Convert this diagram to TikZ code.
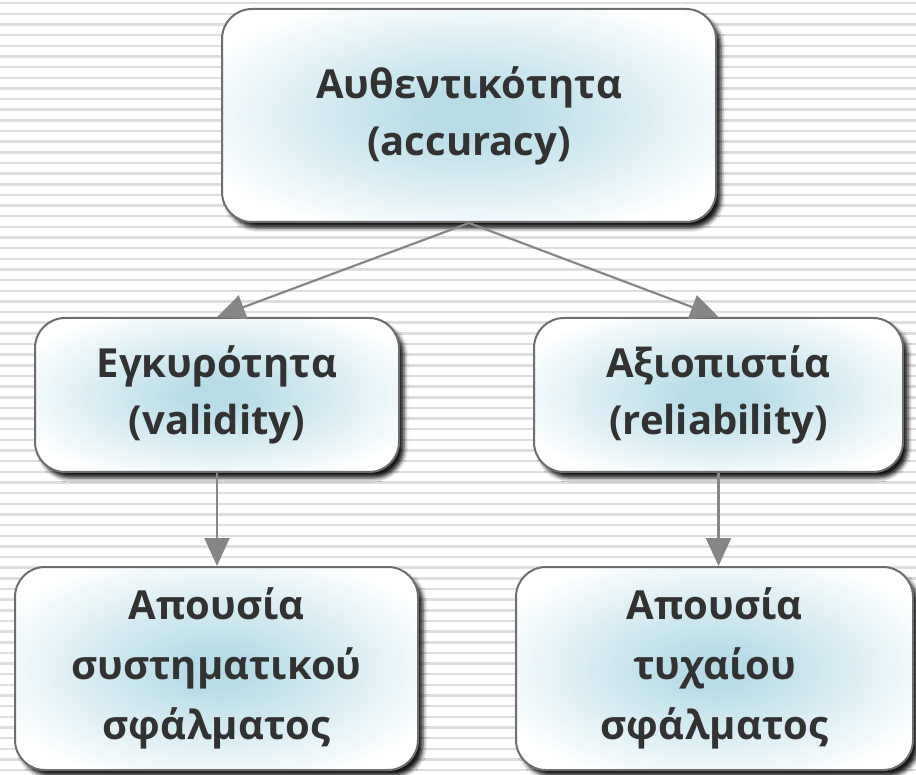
\documentclass[tikz,border=0pt]{standalone}
\usepackage{fontspec}
\setmainfont{Open Sans}
\usetikzlibrary{arrows.meta,shadows.blur}

\definecolor{kern}{RGB}{182,220,231}
\definecolor{ink}{RGB}{50,50,50}
\definecolor{rand}{RGB}{110,110,110}
\pgfdeclareradialshading{kernshade}{\pgfpoint{0bp}{0bp}}{color(0bp)=(kern); color(4bp)=(kern); color(30bp)=(white); color(50bp)=(white)}

\tikzset{
  blok/.style={draw=rand, line width=2pt, rounded corners=30pt, shading=kernshade,
    text=ink, align=center, font=\fontsize{40}{57}\bfseries\selectfont,
    blur shadow={shadow xshift=5pt, shadow yshift=-6pt, shadow blur radius=4pt, shadow opacity=90}},
  pijl/.style={draw=gray!95, line width=2.2pt, -{Triangle[width=25pt,length=28pt]}},
  streep/.style={fill=black!13}
}

\begin{document}
\begin{tikzpicture}[x=1pt,y=-1pt]
\useasboundingbox (0,0) rectangle (916,775);

% achtergrond
\foreach \i in {0,...,72}
  \fill[streep] (0,{2+\i*10.65}) rectangle (916,{4.5+\i*10.65});

\node[blok, minimum width=494pt, minimum height=213pt] (acc) at (469,115.5) {Αυθεντικότητα\\(accuracy)};

\node[blok, minimum width=364pt, minimum height=154pt] (val) at (217,395) {Εγκυρότητα\\(validity)};
\node[blok, minimum width=369pt, minimum height=154pt] (rel) at (718.5,395) {Αξιοπιστία\\(reliability)};

\node[blok, minimum width=403pt, minimum height=203pt, font=\fontsize{40}{60}\bfseries\selectfont] (sys) at (216.5,668.5) {Απουσία\\συστηματικού\\σφάλματος};
\node[blok, minimum width=397pt, minimum height=203pt, font=\fontsize{40}{60}\bfseries\selectfont] (tyx) at (714.5,668.5) {Απουσία\\τυχαίου\\σφάλματος};

\draw[pijl] (acc.south) -- (val.north);
\draw[pijl] (acc.south) -- (rel.north);
\draw[pijl] (val.south) -- (val.south |- sys.north);
\draw[pijl] (rel.south) -- (rel.south |- tyx.north);

\end{tikzpicture}
\end{document}
